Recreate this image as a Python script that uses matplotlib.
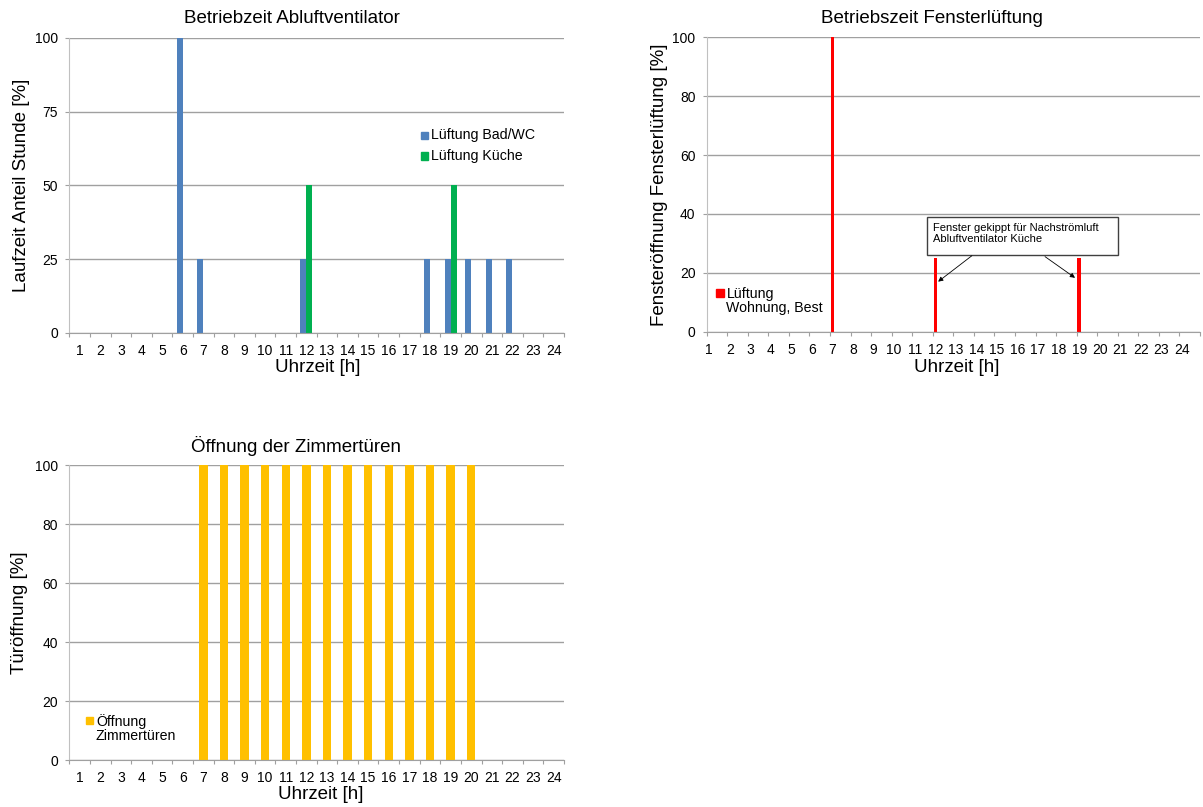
import matplotlib
matplotlib.use("Agg")
import matplotlib.pyplot as plt
from matplotlib.patches import Rectangle

plt.rcParams["font.family"] = ["Liberation Sans", "DejaVu Sans"]

# ---- data -----------------------------------------------------------------
hours = list(range(1, 25))
hour_labels = [str(h) for h in hours]

# Betriebzeit Abluftventilator, Laufzeit Anteil Stunde [%]
bad_wc = [0, 0, 0, 0, 0, 100, 25, 0, 0, 0, 0, 25,
          0, 0, 0, 0, 0, 25, 25, 25, 25, 25, 0, 0]
kueche = [0, 0, 0, 0, 0, 0, 0, 0, 0, 0, 0, 50,
          0, 0, 0, 0, 0, 0, 50, 0, 0, 0, 0, 0]

# Betriebzeit Fensterlüftung [%]
fenster = [0, 0, 0, 0, 0, 0, 100, 0, 0, 0, 0, 25,
           0, 0, 0, 0, 0, 0, 25, 0, 0, 0, 0, 0]

# Öffnung der Zimmertüren [%]
tueren = [0, 0, 0, 0, 0, 0, 100, 100, 100, 100, 100, 100,
          100, 100, 100, 100, 100, 100, 100, 100, 0, 0, 0, 0]

BLUE = "#4f81bd"
GREEN = "#00b050"
RED = "#ff0000"
YELLOW = "#ffc000"
GRID = "#a0a0a0"

W, H = 1203, 807
fig = plt.figure(figsize=(W / 100, H / 100), dpi=100)


def _axes(l, t, r, b):
    return fig.add_axes([l / W, 1 - b / H, (r - l) / W, (b - t) / H])


def _style(ax, yticks, label_offset=0.0):
    ax.set_xlim(0.5, 24.5)
    ax.set_ylim(0, 100)
    ax.set_yticks(yticks)
    ax.grid(axis="y", color=GRID, lw=1)
    ax.set_axisbelow(True)
    for s in ("top", "right"):
        ax.spines[s].set_visible(False)
    ax.spines["left"].set_color("#c0c0c0")
    ax.spines["bottom"].set_color(GRID)
    ax.set_xticks([h + label_offset for h in hours], hour_labels)
    ax.set_xticks([h - 0.5 for h in range(1, 26)], minor=True)
    ax.tick_params(axis="x", which="major", length=0, pad=8, labelsize=10)
    ax.tick_params(axis="x", which="minor", length=3, width=0.8, color=GRID)
    ax.tick_params(axis="y", length=3, width=0.8, color=GRID, pad=5, labelsize=10)


def _labels(ax, title, xlabel, ylabel, title_xy, xlabel_xy, ylabel_x):
    ax.set_title(title, fontsize=13.5, x=title_xy[0], y=title_xy[1], va="center", pad=0)
    ax.set_xlabel(xlabel, fontsize=13.5)
    ax.xaxis.set_label_coords(*xlabel_xy)
    ax.xaxis.label.set_va("center")
    ax.set_ylabel(ylabel, fontsize=13.5)
    ax.yaxis.set_label_coords(ylabel_x, 0.5)
    ax.yaxis.label.set_va("center")


def _key(x, y, color, text):
    # legend key: square + label, positions in figure pixels
    fig.patches.append(Rectangle(((x) / W, 1 - (y + 3.8) / H), 7.5 / W, 7.5 / H,
                                 transform=fig.transFigure, color=color))
    nlines = text.count("\n") + 1
    fig.text((x + 10.5) / W, 1 - (y + (nlines - 1) * 8) / H, text, fontsize=10.2,
             ha="left", va="center", linespacing=1.0)


# ---- Betriebzeit Abluftventilator -------------------------------------------
ax1 = _axes(69.3, 37.7, 564, 333)
w = 0.29
ax1.bar([h - w / 2 for h in hours], bad_wc, width=w, color=BLUE)
ax1.bar([h + w / 2 for h in hours], kueche, width=w, color=GREEN)
_style(ax1, [0, 25, 50, 75, 100])
_labels(ax1, "Betriebzeit Abluftventilator", "Uhrzeit [h]", "Laufzeit Anteil Stunde [%]",
        (0.451, 1.0657), (0.503, -0.1185), -0.0976)
_key(420.5, 135.5, BLUE, "Lüftung Bad/WC")
_key(420.5, 156, GREEN, "Lüftung Küche")

# ---- Betriebzeit Fensterlüftung ---------------------------------------------
ax2 = _axes(706.7, 37.3, 1200, 331.7)
off = -0.38
ax2.bar([h + off for h in hours], fenster, width=0.17, color=RED)
_style(ax2, [0, 20, 40, 60, 80, 100], label_offset=off)
_labels(ax2, "Betriebszeit Fensterlüftung", "Uhrzeit [h]", "Fensteröffnung Fensterlüftung [%]",
        (0.456, 1.064), (0.5066, -0.12), -0.0947)
_key(716, 292.7, RED, "Lüftung\nWohnung, Best")

ax2.add_patch(Rectangle((11.22, 26.05), 20.52 - 11.22, 39.0 - 26.05, facecolor="white",
                        edgecolor="#404040", lw=1, zorder=4))
ax2.text(11.53, 33.3, "Fenster gekippt für Nachströmluft\nAbluftventilator Küche",
         fontsize=8, ha="left", va="center", linespacing=1.05, zorder=5)
for start, tip in (((13.40, 25.8), (11.76, 17.0)), ((16.96, 25.5), (18.42, 18.3))):
    ax2.annotate("", xy=tip, xytext=start, zorder=5,
                 arrowprops=dict(arrowstyle="-|>", lw=0.6, color="black",
                                 mutation_scale=7, shrinkA=0, shrinkB=0))

# ---- Öffnung der Zimmertüren ------------------------------------------------
ax3 = _axes(69.3, 465.3, 564, 760)
ax3.bar(hours, tueren, width=0.41, color=YELLOW)
_style(ax3, [0, 20, 40, 60, 80, 100])
_labels(ax3, "Öffnung der Zimmertüren", "Uhrzeit [h]", "Türöffnung [%]",
        (0.4575, 1.0655), (0.508, -0.1174), -0.0997)
_key(85.5, 720.3, YELLOW, "Öffnung\nZimmertüren")

fig.savefig("out.png", dpi=100)
